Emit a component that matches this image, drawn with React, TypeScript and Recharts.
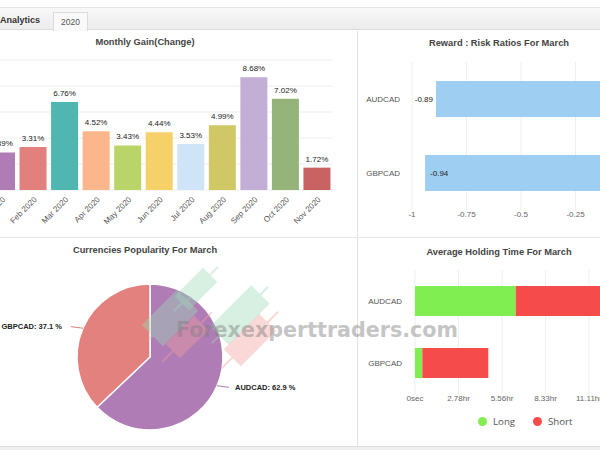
import React from 'react';
import {
  BarChart,
  Bar,
  XAxis,
  YAxis,
  CartesianGrid,
  LabelList,
  Cell,
  PieChart,
  Pie,
  Legend,
} from 'recharts';

// ---------- data ----------
const months = ['Jan 2020', 'Feb 2020', 'Mar 2020', 'Apr 2020', 'May 2020', 'Jun 2020', 'Jul 2020', 'Aug 2020', 'Sep 2020', 'Oct 2020', 'Nov 2020'];
const monthlyGain = [2.89, 3.31, 6.76, 4.52, 3.43, 4.44, 3.53, 4.99, 8.68, 7.02, 1.72];
const monthColors = ['#B07CB6', '#E2807E', '#4FB6B1', '#FBB68B', '#B9D469', '#F6D16A', '#CFE5F7', '#D0C866', '#C3AED6', '#95B479', '#C96262'];
const gainTicks = [0, 1, 2, 3, 4, 5, 6, 7, 8, 9, 10];

const riskPairs = ['AUDCAD', 'GBPCAD'];
const riskRatios = [-0.89, -0.94];
const riskTicks = [-1, -0.75, -0.5, -0.25, 0];

const popularityPairs = ['AUDCAD', 'GBPCAD'];
const popularityShares = [62.9, 37.1];
const popularityColors = ['#B07CB5', '#E2817D'];

const holdingPairs = ['AUDCAD', 'GBPCAD'];
const holdingLongSec = [23150, 1680];
const holdingShortSec = [24000, 15170];
const holdingTicks = [0, 10000, 20000, 30000, 40000, 50000];
const holdingTickLabels = ['0sec', '2.78hr', '5.56hr', '8.33hr', '11.11hr', '13.89hr'];

// ---------- tables ----------
const gainData = months.map((m, i) => ({ month: m, gain: monthlyGain[i] }));
const riskData = riskPairs.map((p, i) => ({ pair: p, ratio: riskRatios[i] }));
const popData = popularityPairs.map((p, i) => ({ name: p, value: popularityShares[i] }));
const holdData = holdingPairs.map((p, i) => ({ pair: p, long: holdingLongSec[i], short: holdingShortSec[i] }));

const FONT = '"Liberation Sans", Arial, sans-serif';
const RAD = Math.PI / 180;

const titleStyle: React.CSSProperties = {
  position: 'absolute',
  fontFamily: FONT,
  fontWeight: 'bold',
  fontSize: 9.3,
  color: '#444',
  textAlign: 'center',
  whiteSpace: 'nowrap',
};

const RiskLabel = (props: any) => {
  const { x, y, width, height, value } = props;
  const left = Math.min(x, x + width);
  const cy = y + height / 2;
  const outside = value - riskTicks[0] >= 0.1;
  return (
    <text
      x={outside ? left - 3 : left + 5}
      y={cy}
      dy="0.35em"
      textAnchor={outside ? 'end' : 'start'}
      fontSize={8}
      fontFamily={FONT}
      fill="#222"
    >
      {value.toFixed(2)}
    </text>
  );
};

const PieLabel = (props: any) => {
  const { cx, cy, midAngle, outerRadius, name, value } = props;
  const cos = Math.cos(-midAngle * RAD);
  const sin = Math.sin(-midAngle * RAD);
  const sx = cx + outerRadius * cos;
  const sy = cy + outerRadius * sin;
  const ex = cx + (outerRadius + 13) * cos;
  const ey = cy + (outerRadius + 4) * sin;
  const right = cos >= 0;
  return (
    <g>
      <path d={`M${sx},${sy}L${ex},${ey}`} stroke={props.fill} strokeWidth={1} fill="none" />
      <text
        x={ex + (right ? 6 : -9)}
        y={ey}
        dy="0.35em"
        textAnchor={right ? 'start' : 'end'}
        fontSize={7.5}
        fontWeight="bold"
        fontFamily={FONT}
        fill="#222"
      >
        {`${name}: ${value} %`}
      </text>
    </g>
  );
};

const HoldLegend = () => (
  <div style={{ position: 'relative', height: 24, fontFamily: '"Open Sans", sans-serif', fontSize: 9.7, color: '#555' }}>
    {[
      { label: 'Long', color: '#80EE50', left: 120 },
      { label: 'Short', color: '#F64B4B', left: 175 },
    ].map((it) => (
      <div key={it.label} style={{ position: 'absolute', left: it.left, top: 7, display: 'flex', alignItems: 'center' }}>
        <span style={{ display: 'inline-block', width: 9, height: 9, borderRadius: 5, background: it.color, marginRight: 6 }} />
        <span>{it.label}</span>
      </div>
    ))}
  </div>
);

const candles = [
  { cx: 196, cy: 289, w: 20, h: 40, wick: 62, color: '#9edcb9' },
  { cx: 170, cy: 318, w: 30, h: 50, wick: 60, color: '#9edcb9' },
  { cx: 187, cy: 337, w: 20, h: 40, wick: 70, color: '#f3a0a0' },
  { cx: 240, cy: 315, w: 26, h: 58, wick: 80, color: '#9edcb9' },
  { cx: 250, cy: 340, w: 24, h: 50, wick: 80, color: '#f3a0a0' },
];

export default function App() {
  return (
    <div
      style={{
        position: 'fixed',
        left: 0,
        top: 0,
        width: 600,
        height: 450,
        overflow: 'hidden',
        background: '#fff',
        fontFamily: FONT,
      }}
    >
      {/* tab bar */}
      <div style={{ position: 'absolute', left: 0, top: 7, width: 600, height: 23, background: 'linear-gradient(#f8f8f8, #ececec)', borderTop: '1px solid #e6e6e6', borderBottom: '1px solid #dcdcdc', boxSizing: 'border-box' }} />
      <div style={{ position: 'absolute', left: 0, top: 15, fontSize: 9, fontWeight: 'bold', color: '#333' }}>Analytics</div>
      <div style={{ position: 'absolute', left: 53, top: 12, width: 35, height: 19, background: '#f9f9f9', border: '1px solid #dcdcdc', borderBottom: 'none', boxSizing: 'border-box', fontSize: 8.5, color: '#555', textAlign: 'center', lineHeight: '18px' }}>2020</div>

      {/* dividers */}
      <div style={{ position: 'absolute', left: 357, top: 31, width: 1, height: 415, background: '#e2e2e2' }} />
      <div style={{ position: 'absolute', left: 0, top: 237, width: 600, height: 1, background: '#e6e6e6' }} />
      <div style={{ position: 'absolute', left: 0, top: 446, width: 600, height: 4, background: '#efefef', borderTop: '1px solid #dedede', boxSizing: 'border-box' }} />

      {/* titles */}
      <div style={{ ...titleStyle, left: 45, width: 200, top: 37 }}>Monthly Gain(Change)</div>
      <div style={{ ...titleStyle, left: 399, width: 200, top: 38 }}>Reward : Risk Ratios For March</div>
      <div style={{ ...titleStyle, left: 45, width: 200, top: 245 }}>Currencies Popularity For March</div>
      <div style={{ ...titleStyle, left: 399, width: 200, top: 247 }}>Average Holding Time For March</div>

      {/* Monthly gain */}
      <div style={{ position: 'absolute', left: -14, top: 30 }}>
        <BarChart width={347} height={205} data={gainData} margin={{ top: 30, right: 0, left: 0, bottom: 0 }}>
          <CartesianGrid vertical={false} stroke="#eeeeee" />
          <YAxis hide domain={[0, 10]} ticks={gainTicks} />
          <XAxis
            dataKey="month"
            interval={0}
            height={45}
            angle={-45}
            textAnchor="end"
            axisLine={false}
            tickLine={false}
            tickSize={0}
            tickMargin={6}
            tick={{ fontSize: 8, fill: '#555', fontFamily: FONT }}
          />
          <Bar dataKey="gain" barSize={27} isAnimationActive={false}>
            {gainData.map((d, i) => (
              <Cell key={d.month} fill={monthColors[i]} />
            ))}
            <LabelList
              dataKey="gain"
              position="top"
              offset={6}
              formatter={(v: any) => `${Number(v).toFixed(2)}%`}
              style={{ fontSize: 8, fill: '#222', fontFamily: FONT }}
            />
          </Bar>
        </BarChart>
      </div>

      {/* Reward : Risk */}
      <div style={{ position: 'absolute', left: 358, top: 30 }}>
        <BarChart layout="vertical" width={272} height={200} data={riskData} margin={{ top: 32, right: 0, left: 0, bottom: 0 }}>
          <CartesianGrid horizontal={false} stroke="#eeeeee" />
          <XAxis
            type="number"
            domain={[-1, 0]}
            ticks={riskTicks}
            interval={0}
            height={20}
            axisLine={false}
            tickLine={false}
            tickSize={0}
            tickMargin={1}
            tick={{ fontSize: 8, fill: '#666', fontFamily: FONT }}
          />
          <YAxis
            type="category"
            dataKey="pair"
            width={54}
            axisLine={false}
            tickLine={false}
            tickSize={0}
            tickMargin={12}
            tick={{ fontSize: 8, fill: '#555', fontFamily: FONT }}
          />
          <Bar dataKey="ratio" fill="#9FCEF3" barSize={36} isAnimationActive={false}>
            <LabelList dataKey="ratio" content={RiskLabel} />
          </Bar>
        </BarChart>
      </div>

      {/* Popularity pie */}
      <div style={{ position: 'absolute', left: 0, top: 237 }}>
        <PieChart width={357} height={208}>
          <Pie
            data={popData}
            dataKey="value"
            nameKey="name"
            cx={145}
            cy={115}
            outerRadius={73}
            startAngle={90}
            endAngle={-270}
            stroke="#fff"
            strokeWidth={1.5}
            label={PieLabel}
            labelLine={false}
            isAnimationActive={false}
          >
            {popData.map((d, i) => (
              <Cell key={d.name} fill={popularityColors[i]} />
            ))}
          </Pie>
        </PieChart>
      </div>

      {/* Holding time */}
      <div style={{ position: 'absolute', left: 358, top: 237 }}>
        <BarChart layout="vertical" width={274.5} height={195} data={holdData} margin={{ top: 33, right: 0, left: 0, bottom: 0 }}>
          <CartesianGrid horizontal={false} stroke="#eeeeee" />
          <XAxis
            type="number"
            domain={[0, 50000]}
            ticks={holdingTicks}
            interval={0}
            height={14}
            axisLine={false}
            tickLine={false}
            tickSize={0}
            tickMargin={1}
            tickFormatter={(v: number) => holdingTickLabels[holdingTicks.indexOf(v)]}
            tick={{ fontSize: 8, fill: '#666', fontFamily: FONT }}
          />
          <YAxis
            type="category"
            dataKey="pair"
            width={57}
            axisLine={false}
            tickLine={false}
            tickSize={0}
            tickMargin={13}
            tick={{ fontSize: 8, fill: '#555', fontFamily: FONT }}
          />
          <Legend verticalAlign="bottom" height={24} content={HoldLegend} />
          <Bar dataKey="long" stackId="t" fill="#80EE50" barSize={30} isAnimationActive={false} />
          <Bar dataKey="short" stackId="t" fill="#F64B4B" barSize={30} isAnimationActive={false} />
        </BarChart>
      </div>

      {/* watermark */}
      <svg width={600} height={450} style={{ position: 'absolute', left: 0, top: 0, pointerEvents: 'none' }}>
        {candles.map((c, i) => (
          <g key={i} transform={`translate(${c.cx},${c.cy}) rotate(45)`} opacity={0.4}>
            <rect x={-1} y={-c.wick / 2} width={2} height={c.wick} fill={c.color} />
            <rect x={-c.w / 2} y={-c.h / 2} width={c.w} height={c.h} fill={c.color} />
          </g>
        ))}
        <text
          x={176}
          y={337}
          textLength={282}
          lengthAdjust="spacingAndGlyphs"
          fontSize={21}
          fontWeight="bold"
          fontFamily='"DejaVu Sans", sans-serif'
          fill="#808080"
          opacity={0.45}
        >
          Forexexperttraders.com
        </text>
      </svg>
    </div>
  );
}
